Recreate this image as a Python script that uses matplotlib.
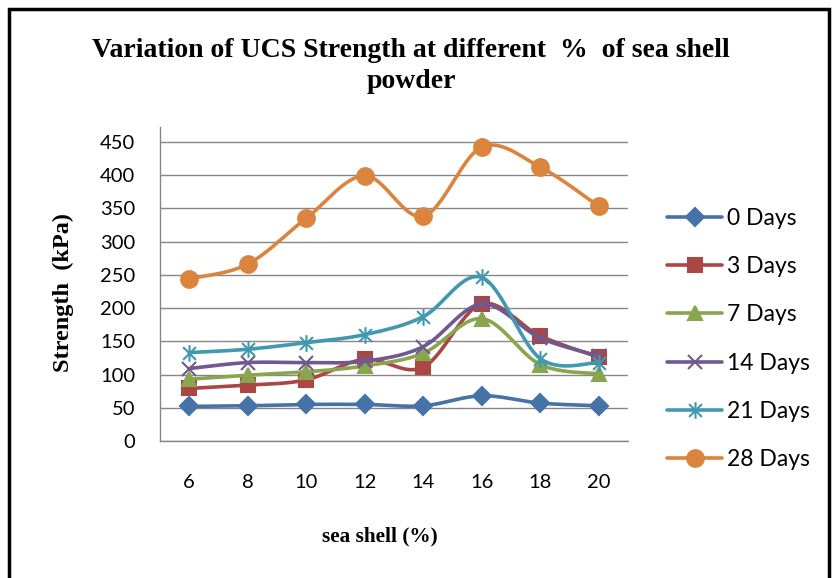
import numpy as np
import matplotlib
matplotlib.use("Agg")
import matplotlib.pyplot as plt
from matplotlib.path import Path
from matplotlib.patches import Rectangle

# data
shell_pct = ["6", "8", "10", "12", "14", "16", "18", "20"]
days_0 = [52, 53, 55, 55, 53, 68, 57, 53]
days_3 = [79, 84, 92, 123, 111, 206, 158, 126]
days_7 = [93, 99, 104, 113, 132, 184, 115, 101]
days_14 = [109, 118, 118, 120, 142, 206, 155, 128]
days_21 = [133, 138, 148, 160, 187, 246, 124, 118]
days_28 = [244, 266, 335, 399, 338, 442, 412, 353]

series_names = ["0 Days", "3 Days", "7 Days", "14 Days", "21 Days", "28 Days"]
series = [days_0, days_3, days_7, days_14, days_21, days_28]
colors = ["#4572A7", "#AA4643", "#89A54E", "#71588F", "#4198AF", "#DB843D"]

# excel style asterisk: x plus a vertical bar
ast = Path([(-1, -1), (1, 1), (-1, 1), (1, -1), (0, -1.3), (0, 1.3)],
           [Path.MOVETO, Path.LINETO, Path.MOVETO, Path.LINETO, Path.MOVETO, Path.LINETO])
markers = ["D", "s", "^", "x", ast, "o"]
msizes = [9, 10, 10, 10, 12, 12]

N = 30


def smooth(y):
    # catmull-rom through the points, like excel's smoothed line
    y = np.asarray(y, float)
    x = np.arange(len(y), dtype=float)
    xp = np.concatenate([[x[0]], x, [x[-1]]])
    yp = np.concatenate([[y[0]], y, [y[-1]]])
    xs, ys = [], []
    t = np.linspace(0, 1, N, endpoint=False)
    for i in range(len(y) - 1):
        p0, p1, p2, p3 = [(xp[i + k], yp[i + k]) for k in range(4)]
        for j, arr in ((0, xs), (1, ys)):
            a, b, c, d = p0[j], p1[j], p2[j], p3[j]
            b1 = b + (c - a) / 6
            b2 = c - (d - b) / 6
            arr.extend((1 - t) ** 3 * b + 3 * (1 - t) ** 2 * t * b1
                       + 3 * (1 - t) * t ** 2 * b2 + t ** 3 * c)
    xs.append(x[-1])
    ys.append(y[-1])
    return np.array(xs), np.array(ys)


fig = plt.figure(figsize=(8.32, 5.78), dpi=100)
ax = fig.add_axes([0.1923, 0.237, 0.5625, 0.543])

for name, vals, c, m, ms in zip(series_names, series, colors, markers, msizes):
    xs, ys = smooth(vals)
    ax.plot(xs, ys, color=c, lw=2.6, marker=m, ms=ms, markevery=N,
            markerfacecolor=c, markeredgecolor=c, mew=1.5, label=name,
            solid_capstyle="round")

ax.set_xlim(-0.5, len(shell_pct) - 0.5)
ax.set_ylim(0, 472)
ax.set_yticks(range(0, 451, 50))
ax.set_xticks(range(len(shell_pct)))
ax.set_xticklabels(shell_pct)
ax.grid(axis="y", color="#868686", lw=1)
ax.set_axisbelow(True)
for s in ["top", "right"]:
    ax.spines[s].set_visible(False)
for s in ["left", "bottom"]:
    ax.spines[s].set_color("#868686")
    ax.spines[s].set_linewidth(1)
ax.tick_params(axis="both", length=0, labelsize=14.5)
ax.tick_params(axis="x", pad=24)
ax.tick_params(axis="y", pad=18)
for lab in ax.get_xticklabels() + ax.get_yticklabels():
    lab.set_fontfamily("Lato")

fig.text(63 / 832, 1 - 292 / 578, "Strength  (kPa)", rotation=90, ha="center", va="center",
         family="Liberation Serif", weight="bold", fontsize=17.5)
fig.text(380 / 832, 1 - 536 / 578, "sea shell (%)", ha="center", va="center",
         family="Liberation Serif", weight="bold", fontsize=15.3)

fig.text(411 / 832, 1 - 66 / 578, "Variation of UCS Strength at different  %  of sea shell\npowder",
         ha="center", va="center", family="Liberation Serif", weight="bold",
         fontsize=20, linespacing=1.3)

leg = fig.legend(loc="center left", bbox_to_anchor=(0.777, 0.4135), frameon=False,
                 handlelength=2.4, handletextpad=0.2, labelspacing=1.19,
                 prop={"family": "Lato", "size": 16.5})

fig.add_artist(Rectangle((0.011, -0.02), 0.985, 1.004, transform=fig.transFigure,
                         fill=False, edgecolor="black", lw=2.5))

fig.savefig("out.png", dpi=100, facecolor="white")
